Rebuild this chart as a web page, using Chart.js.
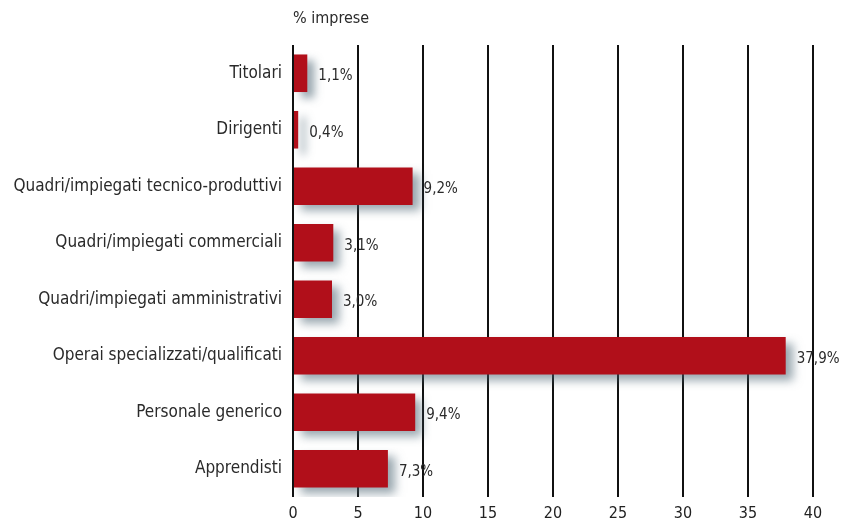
<!DOCTYPE html>
<html>
<head>
<meta charset="utf-8">
<script src="https://cdn.jsdelivr.net/npm/chart.js@4/dist/chart.umd.min.js"></script>
<style>
  body { margin: 0; background: #fff; }
  #wrap { width: 844px; height: 524px; }
</style>
</head>
<body>
<div id="wrap"><canvas id="chart"></canvas></div>
<script>
// categorie e valori (% imprese)
const categorie = [
  'Titolari',
  'Dirigenti',
  'Quadri/impiegati tecnico-produttivi',
  'Quadri/impiegati commerciali',
  'Quadri/impiegati amministrativi',
  'Operai specializzati/qualificati',
  'Personale generico',
  'Apprendisti'
];
const valori = [1.1, 0.4, 9.2, 3.1, 3.0, 37.9, 9.4, 7.3];
const titoloAsse = '% imprese';

const FONT = '"Liberation Sans Narrow", "DejaVu Sans Condensed", "Roboto", sans-serif';

// ombra sotto le barre
const ombraBarre = {
  id: 'ombraBarre',
  beforeDatasetsDraw(chart) {
    const ctx = chart.ctx;
    ctx.save();
    ctx.shadowColor = 'rgba(70, 95, 110, 0.55)';
    ctx.shadowBlur = 9;
    ctx.shadowOffsetX = 7;
    ctx.shadowOffsetY = 6;
  },
  afterDatasetsDraw(chart) {
    chart.ctx.restore();
  }
};

// etichette con il valore e titolo in alto
const etichette = {
  id: 'etichette',
  afterDraw(chart) {
    const ctx = chart.ctx;
    const area = chart.chartArea;
    ctx.save();
    ctx.font = '15px ' + FONT;
    ctx.fillStyle = '#2a2a2a';
    ctx.textBaseline = 'middle';
    ctx.textAlign = 'left';
    const meta = chart.getDatasetMeta(0);
    meta.data.forEach((bar, i) => {
      const testo = valori[i].toFixed(1).replace('.', ',') + '%';
      ctx.fillText(testo, bar.x + 11, bar.y + 3);
    });
    ctx.font = '16px ' + FONT;
    ctx.textBaseline = 'alphabetic';
    ctx.fillText(titoloAsse, area.left, 23);
    ctx.restore();
  }
};

new Chart(document.getElementById('chart'), {
  type: 'bar',
  data: {
    labels: categorie,
    datasets: [{
      data: valori,
      backgroundColor: '#b10f1a',
      borderWidth: 0,
      barPercentage: 0.7,
      categoryPercentage: 0.95
    }]
  },
  options: {
    indexAxis: 'y',
    responsive: true,
    maintainAspectRatio: false,
    animation: false,
    layout: { padding: { top: 45, right: 31, bottom: 0, left: 0 } },
    plugins: {
      legend: { display: false },
      tooltip: { enabled: false }
    },
    scales: {
      x: {
        min: 0,
        max: 40,
        ticks: {
          stepSize: 5,
          color: '#222',
          padding: 7,
          font: { family: FONT, size: 16 }
        },
        grid: {
          color: '#111',
          lineWidth: 2,
          drawTicks: false
        },
        border: { display: false },
        afterFit(scale) { scale.height = 27; }
      },
      y: {
        ticks: {
          color: '#2a2a2a',
          padding: 11,
          font: { family: FONT, size: 17 }
        },
        grid: { display: false, drawTicks: false },
        border: { display: false },
        afterFit(scale) { scale.width = 293; }
      }
    }
  },
  plugins: [ombraBarre, etichette]
});
</script>
</body>
</html>
